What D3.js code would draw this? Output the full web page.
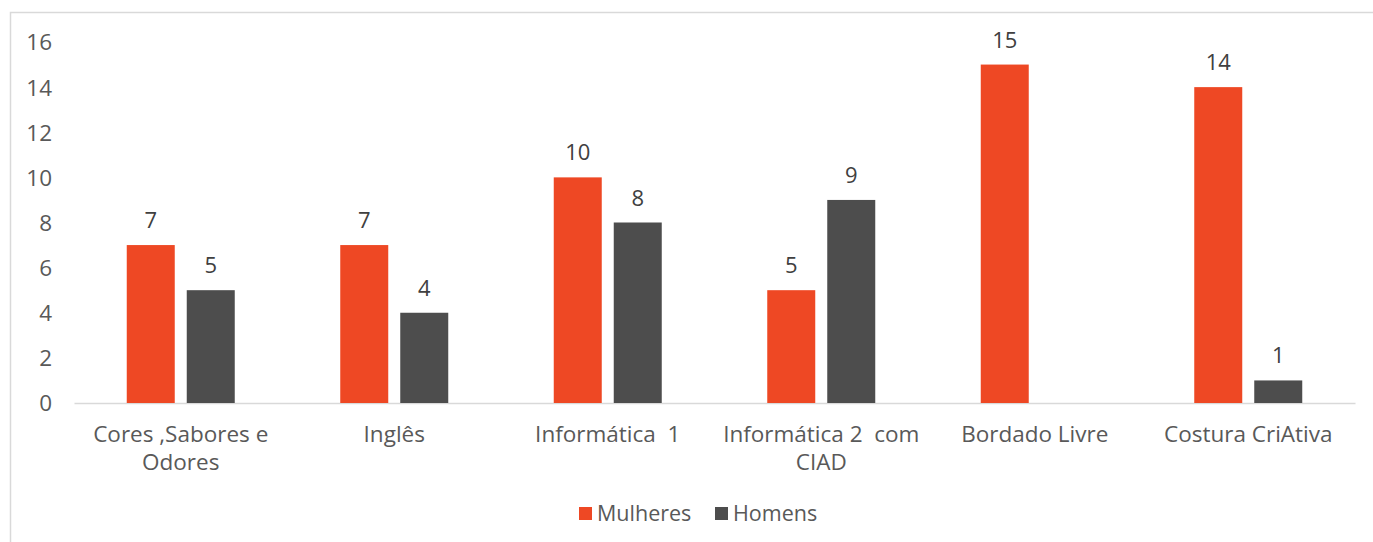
<!DOCTYPE html>
<html><head><meta charset="utf-8">
<script src="https://cdn.jsdelivr.net/npm/d3@7"></script>
<style>
html,body{margin:0;padding:0;background:#fff;}
svg text{white-space:pre;}
</style></head>
<body>
<script>
const categories = ["Cores ,Sabores e Odores","Inglês","Informática  1","Informática 2  com CIAD","Bordado Livre","Costura CriAtiva"];
const categoryLines = [["Cores ,Sabores e","Odores"],["Inglês"],["Informática  1"],["Informática 2  com","CIAD"],["Bordado Livre"],["Costura CriAtiva"]];
const seriesNames = ["Mulheres","Homens"];
const mulheres = [7,7,10,5,15,14];
const homens = [5,4,8,9,0,1];
const yTicks = [0,2,4,6,8,10,12,14,16];
const colors = ["#EE4824","#4D4D4D"];

const W=1373,H=542;
const font = "'Open Sans', sans-serif";
const textColor = "#595959";
const svg = d3.select("body").append("svg").attr("width",W).attr("height",H);

svg.append("rect").attr("x",10.5).attr("y",12.5).attr("width",1500).attr("height",700)
  .attr("fill","none").attr("stroke","#D9D9D9").attr("stroke-width",1.5);

const x = d3.scaleBand().domain(categories).range([74,1355]).paddingInner(0).paddingOuter(0);
const xs = d3.scaleBand().domain(seriesNames).range([-54,54]).paddingInner(0.2).paddingOuter(0);
const y = d3.scaleLinear().domain([0,16]).range([403,42]);

// y axis labels
const yAxis = d3.axisLeft(y).tickValues(yTicks).tickSize(0).tickPadding(0);
const gy = svg.append("g").attr("transform","translate(52,0)").call(yAxis);
gy.select(".domain").remove();
gy.selectAll("text").attr("font-family",font).attr("font-size",22.5).attr("fill",textColor).attr("dy","0.35em");

// baseline
const xAxis = d3.axisBottom(x).tickSize(0).tickFormat("");
const gx = svg.append("g").attr("transform","translate(0,403)").call(xAxis);
gx.select(".domain").attr("stroke","#D9D9D9").attr("stroke-width",1.5);

const data = [];
categories.forEach((c,i)=>{
  data.push({c,s:seriesNames[0],v:mulheres[i],col:colors[0]});
  data.push({c,s:seriesNames[1],v:homens[i],col:colors[1]});
});

svg.append("g").selectAll("rect").data(data).join("rect")
  .attr("x",d=>x(d.c)+x.bandwidth()/2+xs(d.s))
  .attr("y",d=>y(d.v))
  .attr("width",xs.bandwidth())
  .attr("height",d=>y(0)-y(d.v))
  .attr("fill",d=>d.col);

svg.append("g").selectAll("text").data(data.filter(d=>d.v>0)).join("text")
  .attr("x",d=>x(d.c)+x.bandwidth()/2+xs(d.s)+xs.bandwidth()/2)
  .attr("y",d=>y(d.v)-17)
  .attr("text-anchor","middle")
  .attr("font-family",font).attr("font-size",22).attr("fill","#404040")
  .text(d=>d.v);

// category labels
const cl = svg.append("g");
categories.forEach((c,i)=>{
  const t = cl.append("text").attr("x",x(c)+x.bandwidth()/2).attr("y",442)
    .attr("text-anchor","middle").attr("font-family",font).attr("font-size",22.5).attr("fill",textColor);
  categoryLines[i].forEach((ln,j)=>{
    t.append("tspan").attr("x",x(c)+x.bandwidth()/2).attr("dy",j===0?0:28).text(ln);
  });
});

// legend
const lg = svg.append("g");
const legendX = [579,715];
seriesNames.forEach((s,i)=>{
  lg.append("rect").attr("x",legendX[i]).attr("y",507).attr("width",13).attr("height",13).attr("fill",colors[i]);
  lg.append("text").attr("x",legendX[i]+18).attr("y",521).attr("font-family",font).attr("font-size",21.5).attr("fill",textColor).text(s);
});
</script>
</body></html>
